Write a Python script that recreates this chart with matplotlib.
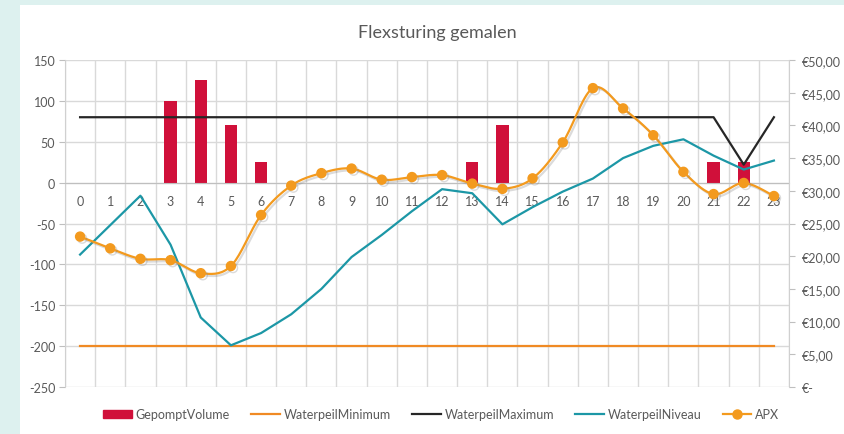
import numpy as np
import matplotlib
matplotlib.use("Agg")
import matplotlib.pyplot as plt
from matplotlib import patheffects as pe
from matplotlib.patches import Rectangle
from matplotlib.lines import Line2D

plt.rcParams['font.family'] = ['Lato', 'DejaVu Sans']

# data
hours = list(range(24))
gepompt_volume = [0, 0, 0, 100, 125, 70, 25, 0, 0, 0, 0, 0,
                  0, 25, 70, 0, 0, 0, 0, 0, 0, 25, 25, 0]
waterpeil_minimum = [-200] * 24
waterpeil_maximum = [80] * 22 + [22, 80]
waterpeil_niveau = [-88, -52, -16, -76, -165, -199, -184, -161, -130, -91, -64, -35,
                    -8, -13, -51, -30, -11, 5, 30, 45, 53, 33, 16, 27]
apx = [23.0, 21.2, 19.6, 19.4, 17.4, 18.5, 26.3, 30.8, 32.7, 33.4, 31.7, 32.1,
       32.4, 31.1, 30.3, 31.9, 37.4, 45.7, 42.6, 38.5, 32.9, 29.5, 31.2, 29.2]

left_ticks = [150, 100, 50, 0, -50, -100, -150, -200, -250]
right_ticks = [50, 45, 40, 35, 30, 25, 20, 15, 10, 5, 0]
right_labels = ['€50,00', '€45,00', '€40,00', '€35,00', '€30,00', '€25,00',
                '€20,00', '€15,00', '€10,00', '€5,00', '€-']

TXT = '#595959'
C_BAR = '#D0103A'
C_MIN = '#F08A24'
C_MAX = '#262626'
C_NIV = '#1C97A6'
C_APX = '#F39A1E'


def smooth(x, y, n=20):
    # excel-like smoothed line (bezier through the points)
    x = np.asarray(x, float)
    y = np.asarray(y, float)
    px = np.concatenate([[x[0]], x, [x[-1]]])
    py = np.concatenate([[y[0]], y, [y[-1]]])
    xs, ys = [], []
    t = np.linspace(0, 1, n)
    for i in range(1, len(x)):
        p0 = np.array([px[i], py[i]])
        p3 = np.array([px[i + 1], py[i + 1]])
        c1 = p0 + (p3 - np.array([px[i - 1], py[i - 1]])) / 6
        c2 = p3 - (np.array([px[i + 2], py[i + 2]]) - p0) / 6
        b = ((1 - t) ** 3)[:, None] * p0 + (3 * (1 - t) ** 2 * t)[:, None] * c1 \
            + (3 * (1 - t) * t ** 2)[:, None] * c2 + (t ** 3)[:, None] * p3
        xs.extend(b[:, 0])
        ys.extend(b[:, 1])
    return xs, ys


fig = plt.figure(figsize=(8.45, 4.35), dpi=100, facecolor='#DDF1EF')
fig.patches.append(Rectangle((20 / 845, 0), 1, 1 - 6 / 435, transform=fig.transFigure,
                             facecolor='white', edgecolor='none', zorder=-10))

ax = fig.add_axes([65 / 845, 1 - 388 / 435, 724 / 845, 327 / 435])
ax.set_facecolor('none')
ax2 = ax.twinx()

ax.bar(hours, gepompt_volume, width=0.41, color=C_BAR, zorder=2)
ax.plot(hours, waterpeil_minimum, color=C_MIN, lw=1.6, zorder=3)
ax.plot(hours, waterpeil_maximum, color=C_MAX, lw=1.6, zorder=3)
ax.plot(hours, waterpeil_niveau, color=C_NIV, lw=1.6, zorder=3)

shadow = [pe.SimpleLineShadow(offset=(1.5, -1.5), shadow_color='#888888', alpha=0.3), pe.Normal()]
sx, sy = smooth(hours, apx)
ax2.plot(sx, sy, color=C_APX, lw=1.6, path_effects=shadow, zorder=3)
ax2.plot(hours, apx, ls='none', marker='o', ms=6.5, color=C_APX, path_effects=shadow, zorder=4)

ax.set_xlim(-0.5, 23.5)
ax.set_ylim(-250, 150)
ax2.set_ylim(0, 50)

ax.set_yticks(left_ticks)
ax.set_yticklabels([str(v) for v in left_ticks])
ax2.set_yticks(right_ticks)
ax2.set_yticklabels(right_labels)

ax.set_xticks(hours)
ax.set_xticklabels([str(h) for h in hours])
ax.set_xticks(np.arange(-0.5, 24, 1), minor=True)
ax.tick_params(axis='x', which='both', length=0, labelsize=9, labelcolor=TXT, pad=9)
ax.tick_params(axis='y', length=4, color='#BFBFBF', labelsize=9, labelcolor=TXT, pad=3)
ax2.tick_params(axis='y', length=4, color='#BFBFBF', labelsize=9, labelcolor=TXT, pad=5)

ax.grid(which='minor', axis='x', color='#D9D9D9', lw=1)
ax.grid(which='major', axis='y', color='#D9D9D9', lw=1)
ax.set_axisbelow(True)

ax.spines['bottom'].set_position(('data', 0))
ax.spines['bottom'].set_color('#BFBFBF')
for a in (ax, ax2):
    a.spines['top'].set_visible(False)
ax2.spines['bottom'].set_visible(False)
ax.spines['right'].set_visible(False)
ax.spines['left'].set_color('#D0D0D0')
ax2.spines['right'].set_color('#D0D0D0')
ax2.spines['left'].set_visible(False)

fig.text(0.518, 1 - 33 / 435, 'Flexsturing gemalen', ha='center', va='center',
         fontsize=13, color=TXT)

handles = [
    Rectangle((0, 0), 1, 1, color=C_BAR),
    Line2D([], [], color=C_MIN, lw=1.6),
    Line2D([], [], color=C_MAX, lw=1.6),
    Line2D([], [], color=C_NIV, lw=1.6),
    Line2D([], [], color=C_APX, lw=1.6, marker='o', ms=6.5),
]
labels = ['GepomptVolume', 'WaterpeilMinimum', 'WaterpeilMaximum', 'WaterpeilNiveau', 'APX']
leg = fig.legend(handles, labels, loc='center', bbox_to_anchor=(0.522, 1 - 415 / 435), ncol=5,
                 frameon=False, fontsize=9, handlelength=2.3, handleheight=0.6,
                 columnspacing=1.7, handletextpad=0.3)
for t in leg.get_texts():
    t.set_color(TXT)

fig.savefig('out.png', dpi=100, facecolor=fig.get_facecolor())
